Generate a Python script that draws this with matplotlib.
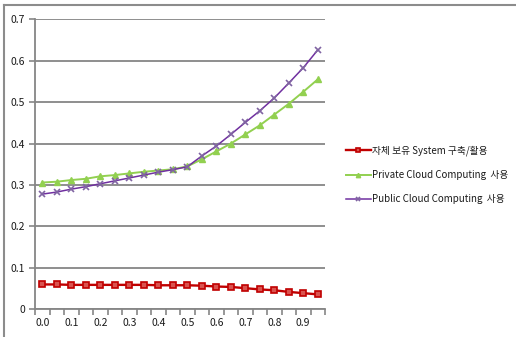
import matplotlib
matplotlib.use("Agg")
import matplotlib.pyplot as plt
from matplotlib.lines import Line2D

plt.rcParams['font.family'] = ['Noto Sans CJK KR', 'DejaVu Sans']

x_values = [0.0, 0.05, 0.1, 0.15, 0.2, 0.25, 0.3, 0.35, 0.4, 0.45,
            0.5, 0.55, 0.6, 0.65, 0.7, 0.75, 0.8, 0.85, 0.9, 0.95]
own_system = [0.060, 0.060, 0.059, 0.059, 0.059, 0.059, 0.059, 0.059, 0.058, 0.058,
              0.058, 0.057, 0.055, 0.054, 0.051, 0.048, 0.046, 0.042, 0.039, 0.036]
private_cloud = [0.306, 0.308, 0.312, 0.315, 0.321, 0.324, 0.328, 0.332, 0.335, 0.338,
                 0.345, 0.362, 0.381, 0.400, 0.422, 0.444, 0.470, 0.496, 0.525, 0.555]
public_cloud = [0.278, 0.283, 0.290, 0.296, 0.303, 0.310, 0.317, 0.324, 0.331, 0.337,
                0.344, 0.370, 0.394, 0.422, 0.451, 0.479, 0.510, 0.546, 0.583, 0.626]
series_labels = ['자체 보유 System 구축/활용', 'Private Cloud Computing  사용', 'Public Cloud Computing  사용']
y_ticks = [0, 0.1, 0.2, 0.3, 0.4, 0.5, 0.6, 0.7]
y_tick_labels = ['0', '0.1', '0.2', '0.3', '0.4', '0.5', '0.6', '0.7']
x_tick_labels = ['0.0', '0.1', '0.2', '0.3', '0.4', '0.5', '0.6', '0.7', '0.8', '0.9']

W, H = 516, 337
fig = plt.figure(figsize=(W / 100, H / 100), dpi=100)
ax = fig.add_axes([35 / W, 1 - 309.3 / H, (325 - 35) / W, (309.3 - 19.3) / H])

grey = '#868686'
idx = list(range(len(x_values)))
ax.plot(idx, own_system, color='#C00000', lw=1.7, marker='s', ms=3.8,
        markerfacecolor='#D9534F', markeredgecolor='#C00000', mew=1.2,
        label=series_labels[0], zorder=3)
ax.plot(idx, private_cloud, color='#92D050', lw=1.4, marker='^', ms=4.5,
        markerfacecolor='#92D050', markeredgecolor='#92D050', label=series_labels[1], zorder=3)
ax.plot(idx, public_cloud, color='#7030A0', lw=1.1, marker='x', ms=4, mew=1.2,
        markeredgecolor='#8064A2', label=series_labels[2], zorder=3)

ax.set_xlim(-0.5, len(x_values) - 0.5)
ax.set_ylim(0, 0.7)
ax.set_yticks(y_ticks)
ax.set_yticklabels(y_tick_labels)
ax.set_xticks(idx[::2])
ax.set_xticklabels(x_tick_labels)
ax.set_xticks([i - 0.5 for i in range(len(x_values) + 1)], minor=True)
ax.tick_params(axis='x', which='major', length=0, labelsize=7.5, pad=6, colors='#1a1a1a')
ax.tick_params(axis='x', which='minor', length=4, width=1.2, color=grey, direction='out')
ax.tick_params(axis='y', which='major', length=4, width=1.2, color=grey, labelsize=7.5,
               pad=3, labelcolor='#1a1a1a')
ax.grid(axis='y', color=grey, lw=1.3, zorder=0)
ax.set_axisbelow(True)
for s in ['top', 'right']:
    ax.spines[s].set_visible(False)
for s in ['left', 'bottom']:
    ax.spines[s].set_color(grey)
    ax.spines[s].set_linewidth(1.3)

leg = fig.legend(loc='center left', bbox_to_anchor=(337 / W, 1 - 175 / H), frameon=False,
                 fontsize=7, handlelength=2.6, handletextpad=0.1, labelspacing=1.45,
                 markerscale=0.7)
for t in leg.get_texts():
    t.set_color('#1a1a1a')

# outer chart-area border (top and left edges visible)
fig.add_artist(Line2D([4 / W, 4 / W], [0, 1 - 5 / H], color='#8c8c8c', lw=1.5, transform=fig.transFigure))
fig.add_artist(Line2D([4 / W, 1], [1 - 5 / H, 1 - 5 / H], color='#8c8c8c', lw=1.5, transform=fig.transFigure))

fig.savefig('out.png', dpi=100)
